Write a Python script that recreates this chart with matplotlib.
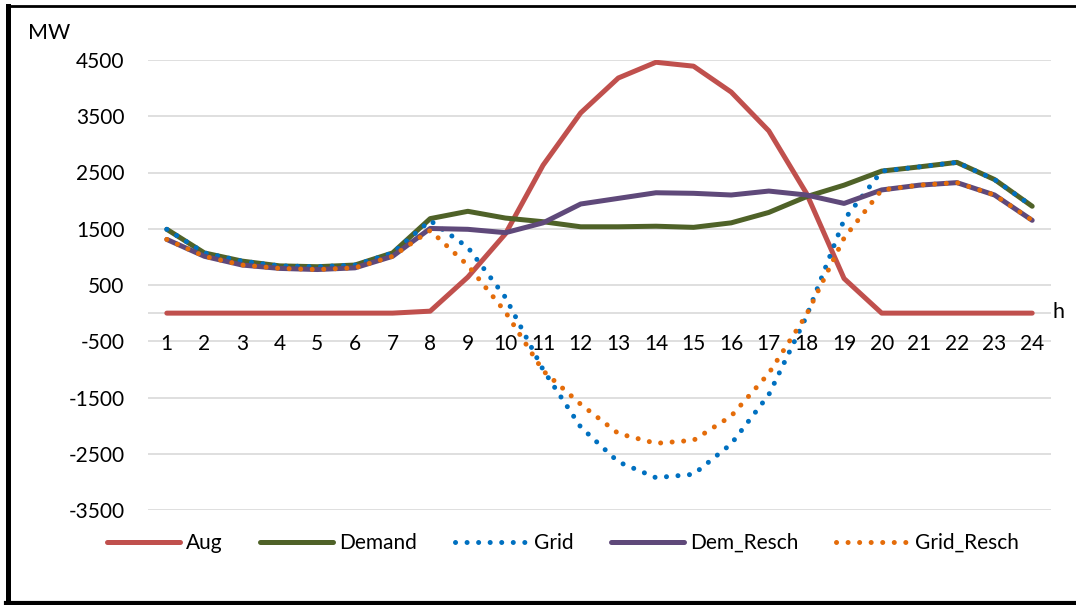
"""Hourly demand / grid profile with and without rescheduling"""

import matplotlib
matplotlib.use('Agg')
import matplotlib.pyplot as plt
from matplotlib.lines import Line2D

plt.rcParams['font.family'] = ['Lato', 'DejaVu Sans']

# ########################################################################## #
# Data (MW per hour) #

hours = list(range(1, 25))

aug = [0, 0, 0, 0, 0, 0, 0, 35, 640, 1410, 2630, 3560,
       4180, 4460, 4390, 3930, 3240, 2130, 615, 0, 0, 0, 0, 0]

demand = [1490, 1070, 925, 840, 825, 855, 1070, 1680, 1810, 1690, 1625, 1535,
          1535, 1545, 1525, 1605, 1790, 2070, 2275, 2525, 2600, 2680, 2375, 1900]

grid = [1490, 1070, 925, 840, 825, 855, 1070, 1645, 1170, 280, -1005, -2025,
        -2645, -2925, -2865, -2325, -1450, -60, 1660, 2525, 2600, 2680, 2375, 1900]

dem_resch = [1310, 1010, 855, 795, 775, 805, 1010, 1505, 1490, 1430, 1605, 1940,
             2040, 2140, 2130, 2100, 2170, 2100, 1950, 2190, 2275, 2320, 2100, 1650]

grid_resch = [1310, 1010, 855, 795, 775, 805, 1010, 1470, 850, 20, -1025, -1620,
              -2140, -2315, -2260, -1830, -1070, -30, 1335, 2190, 2275, 2320, 2100, 1650]

yticks = [4500, 3500, 2500, 1500, 500, -500, -1500, -2500, -3500]

# ########################################################################## #
# Styles #

LW = 3.6
FS = 15
DOTS = (0, (0.01, 2.3))
lSeries = [
	('Aug', aug, '#C0504D', '-'),
	('Demand', demand, '#4F6228', '-'),
	('Grid', grid, '#0070C0', DOTS),
	('Dem_Resch', dem_resch, '#5F497A', '-'),
	('Grid_Resch', grid_resch, '#E46C0A', DOTS),
]

fig = plt.figure(figsize=(10.76, 6.05), dpi=100)
ax = fig.add_axes([148/1076, 1 - 510/605, (1051 - 148)/1076, 450/605])

lHandles = []
for (sName, aY, sColor, ls) in lSeries:
	ax.plot(hours, aY, color=sColor, lw=LW, linestyle=ls,
		solid_capstyle='round', dash_capstyle='round', solid_joinstyle='round',
		label=sName)
	lHandles.append(Line2D([], [], color=sColor, lw=LW, linestyle=ls,
		solid_capstyle='round', dash_capstyle='round'))

ax.set_xlim(0.5, 24.5)
ax.set_ylim(-3500, 4500)

# Gridlines at labelled ticks, plus the category axis at zero
for v in yticks:
	ax.axhline(v, color='#D9D9D9', lw=1.2, zorder=0)
ax.axhline(0, color='#D9D9D9', lw=1.2, zorder=0)

for s in ax.spines.values():
	s.set_visible(False)

ax.set_yticks(yticks)
ax.set_yticklabels([str(v) for v in yticks])
ax.tick_params(axis='y', length=0, pad=17, labelsize=FS)

# category labels sit just under the zero line
ax.set_xticks([])
for h in hours:
	ax.text(h, -540, str(h), ha='center', va='center', fontsize=FS)

fig.text(28/1076, 1 - 33/605, 'MW', ha='left', va='center', fontsize=FS + 0.5)
fig.text(1052/1076, 1 - 312/605, 'h', ha='left', va='center', fontsize=FS + 0.5)

fig.legend(lHandles, [s[0] for s in lSeries], loc='center', ncol=5,
	bbox_to_anchor=(563/1076, 1 - 543/605), frameon=False, fontsize=FS,
	handlelength=3.5, handletextpad=0.3, columnspacing=1.8)

# Outer frame: top, left and bottom edges only
fig.add_artist(Line2D([7/1076, 1], [1 - 6/605, 1 - 6/605], color='black', lw=2,
	transform=fig.transFigure))
fig.add_artist(Line2D([7.5/1076, 7.5/1076], [1 - 6/605, 1 - 603/605], color='black',
	lw=3.6, transform=fig.transFigure))
fig.add_artist(Line2D([6/1076, 1], [1 - 603/605, 1 - 603/605], color='black', lw=3,
	transform=fig.transFigure))

fig.savefig('out.png', dpi=100)
